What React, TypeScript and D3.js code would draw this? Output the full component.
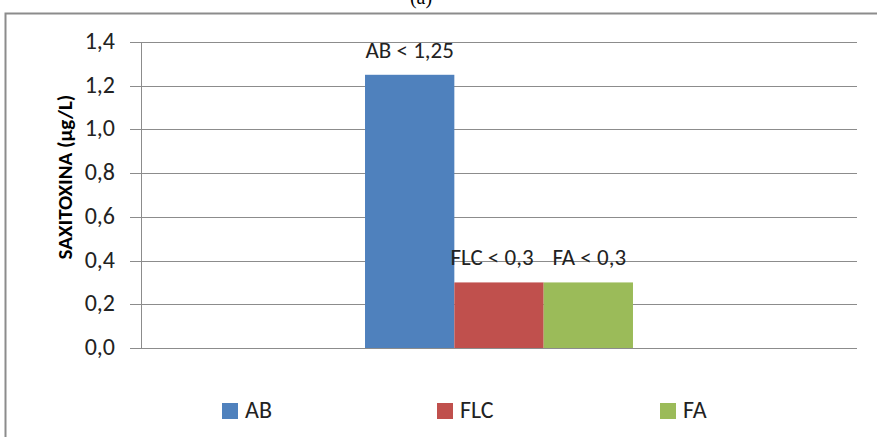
import React from "react";
import * as d3 from "d3";

const categories = [""];
const seriesNames = ["AB", "FLC", "FA"];
const seriesValues = [1.25, 0.3, 0.3];
const valueLabels = ["AB < 1,25", "FLC < 0,3", "FA < 0,3"];
const seriesColors = ["#4f81bd", "#c0504d", "#9bbb59"];
const yTicks = [0, 0.2, 0.4, 0.6, 0.8, 1.0, 1.2, 1.4];
const yTitle = "SAXITOXINA (µg/L)";
const chartTitle = "(a)";

const W = 877;
const H = 437;
const FONT = "Carlito, 'Liberation Sans Narrow', 'Open Sans', 'Liberation Sans', sans-serif";

export default function App() {
  const left = 141, right = 857, top = 42, bottom = 348;
  const y = d3.scaleLinear().domain([0, 1.4]).range([bottom, top]);
  const x0 = d3.scaleBand().domain(categories).range([left, right]).paddingInner(0).paddingOuter(0.836);
  const x1 = d3.scaleBand().domain(seriesNames).range([0, x0.bandwidth()]).padding(0);
  const fmt = (v: number) => v.toFixed(1).replace(".", ",");
  const legendX = [222, 437, 660];
  const labelDx = [0, -7, 1];

  return (
    <svg width={W} height={H} style={{ position: "absolute", left: 0, top: 0 }} fontFamily={FONT}>
      <rect x={0} y={0} width={W} height={H} fill="#fff" />
      <text x={421} y={4} fontSize={20} textAnchor="middle" fontFamily="'Liberation Serif', serif" fill="#000">{chartTitle}</text>
      <path d={`M5.5,${H} V13.5 H${W + 5}`} fill="none" stroke="#8c8c8c" strokeWidth={2} />
      {yTicks.map((t) => (
        <g key={t}>
          <line x1={left} x2={right} y1={Math.round(y(t)) + 0.5} y2={Math.round(y(t)) + 0.5} stroke="#8c8c8c" strokeWidth={1} />
          <line x1={130} x2={left} y1={Math.round(y(t)) + 0.5} y2={Math.round(y(t)) + 0.5} stroke="#8c8c8c" strokeWidth={1} />
          <text x={115} y={y(t) + 7} fontSize={24} textAnchor="end" fill="#222">{fmt(t)}</text>
        </g>
      ))}
      <line x1={left + 0.5} x2={left + 0.5} y1={top} y2={bottom} stroke="#8c8c8c" strokeWidth={1} />
      {categories.map((c) =>
        seriesNames.map((s, i) => {
          const bx = (x0(c) ?? 0) + (x1(s) ?? 0);
          const bw = x1.bandwidth();
          return (
            <g key={s}>
              <rect x={bx} y={y(seriesValues[i])} width={bw} height={bottom - y(seriesValues[i])} fill={seriesColors[i]} />
              <text x={bx + bw / 2 + labelDx[i]} y={y(seriesValues[i]) - 17} fontSize={23} textAnchor="middle" fill="#222">{valueLabels[i]}</text>
            </g>
          );
        })
      )}
      <text transform={`translate(72,177) rotate(-90)`} fontSize={21} fontWeight="bold" textAnchor="middle" fill="#000">{yTitle}</text>
      {seriesNames.map((s, i) => (
        <g key={s}>
          <rect x={legendX[i]} y={403} width={16} height={16} fill={seriesColors[i]} />
          <text x={legendX[i] + 23} y={418} fontSize={24} fill="#222">{s}</text>
        </g>
      ))}
    </svg>
  );
}
